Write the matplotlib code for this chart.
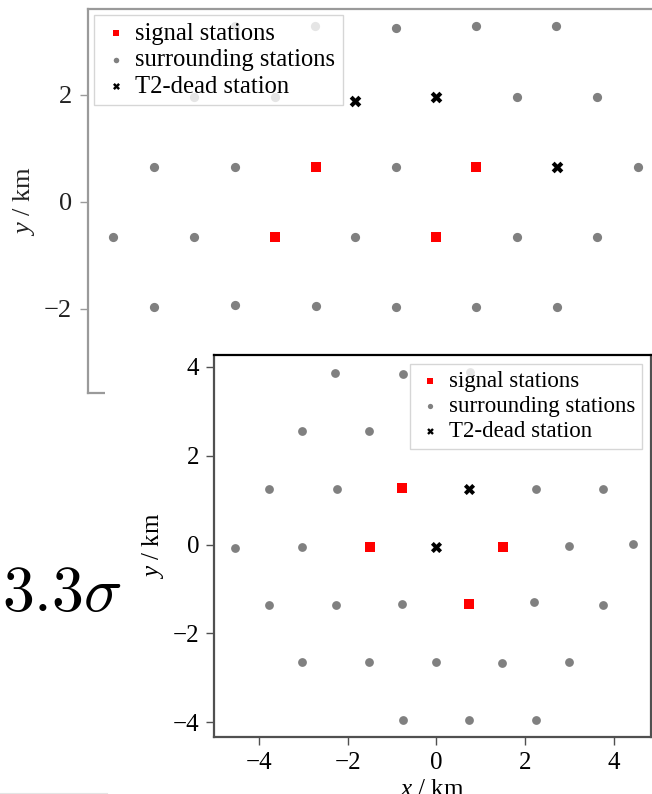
import matplotlib
matplotlib.use("Agg")
import matplotlib.pyplot as plt
from matplotlib.patches import Rectangle
from matplotlib.lines import Line2D

plt.rcParams['font.family'] = ['Liberation Serif', 'DejaVu Serif']
plt.rcParams['mathtext.fontset'] = 'custom'
plt.rcParams['mathtext.rm'] = 'Liberation Serif'
plt.rcParams['mathtext.it'] = 'Liberation Serif:italic'

# --- array layout A (upper panel), km ---
a_signal_x = [-1.10, 1.89, -1.86, 1.14]
a_signal_y = [0.66, 0.65, -0.65, -0.66]
a_dead_x = [-0.36, 1.15, 3.40]
a_dead_y = [1.89, 1.96, 0.65]
a_surr_x = [-2.60, -1.11, 0.40, 1.89, 3.39,
            -3.37, -1.86, 2.65, 4.16,
            -4.11, -2.61, 0.40, 4.91,
            -4.88, -3.37, -0.36, 2.65, 4.16,
            -4.11, -2.61, -1.10, 0.40, 1.89, 3.40]
a_surr_y = [3.28, 3.28, 3.25, 3.28, 3.29,
            1.96, 1.96, 1.96, 1.96,
            0.65, 0.65, 0.65, 0.65,
            -0.65, -0.65, -0.65, -0.65, -0.65,
            -1.96, -1.92, -1.94, -1.96, -1.96, -1.96]

# --- array layout B (lower panel), km ---
b_signal_x = [-0.78, -1.50, 1.49, 0.74]
b_signal_y = [1.27, -0.05, -0.05, -1.33]
b_dead_x = [0.74, 0.0]
b_dead_y = [1.24, -0.05]
b_surr_x = [-2.28, -0.76, 0.76,
            -3.03, -1.52,
            -3.77, -2.24, 2.24, 3.75,
            -4.54, -3.02, 2.99, 4.43,
            -3.77, -2.26, -0.78, 2.20, 3.75,
            -3.02, -1.52, 0.0, 1.48, 2.99,
            -0.76, 0.74, 2.24]
b_surr_y = [3.85, 3.84, 3.88,
            2.55, 2.55,
            1.24, 1.24, 1.24, 1.24,
            -0.075, -0.05, -0.04, 0.015,
            -1.35, -1.35, -1.33, -1.29, -1.35,
            -2.65, -2.65, -2.65, -2.66, -2.65,
            -3.95, -3.95, -3.95]

labels = ['signal stations', 'surrounding stations', 'T2-dead station']
significance = r'$3.3\sigma$'

W, H = 652, 794
fig = plt.figure(figsize=(W / 100, H / 100), dpi=100)


def px_box(left, top, right, bottom):
    return [left / W, 1 - bottom / H, (right - left) / W, (bottom - top) / H]


def draw_layout(ax, sx, sy, ux, uy, dx, dy, fs, ms, spine_col, text_col):
    hs = ax.scatter(sx, sy, marker='s', s=ms * 1.15, color='red', lw=0, zorder=3)
    hu = ax.scatter(ux, uy, marker='o', s=ms, color='grey', lw=0, zorder=3)
    hd = ax.scatter(dx, dy, marker='X', s=ms * 1.6, color='black', lw=0, zorder=3)
    for sp in ax.spines.values():
        sp.set_color(spine_col)
        sp.set_linewidth(1.6)
    ax.tick_params(labelsize=fs, colors=spine_col, labelcolor=text_col,
                   length=6, width=1, pad=5)
    ax.set_ylabel(r'$y$ / km', fontsize=fs, color=text_col)
    return [hs, hu, hd]


# upper panel (partly hidden behind the lower one)
ax1 = fig.add_axes(px_box(87.5, 9, 661.5, 393), zorder=0)
h1 = draw_layout(ax1, a_signal_x, a_signal_y, a_surr_x, a_surr_y,
                 a_dead_x, a_dead_y, 19, 44, '#9a9a9a', '#222222')
ax1.set_xlim(-5.355, 5.355)
ax1.set_ylim(-3.57, 3.607)
ax1.set_yticks([-2, 0, 2])
ax1.yaxis.set_label_coords(-0.088, 0.5)
ax1.legend(h1, labels, loc='upper left', fontsize=17.7, markerscale=0.6,
           labelspacing=0.17, handletextpad=0.2, borderpad=0.3,
           handlelength=1.2, bbox_to_anchor=(0.0, 1.0), borderaxespad=0.25,
           fancybox=False)

# white backdrop of the lower panel
fig.add_artist(Rectangle((105 / W, 0), 1 - 105 / W, 1 - 345 / H,
                         transform=fig.transFigure, facecolor='white',
                         edgecolor='none', zorder=1))
fig.add_artist(Line2D([0, 107 / W], [0.5 / H, 0.5 / H], transform=fig.transFigure,
                      color='#e4e4e4', lw=1.5, zorder=1))

# lower panel
ax2 = fig.add_axes(px_box(214.3, 355, 651, 736.7), zorder=2)
h2 = draw_layout(ax2, b_signal_x, b_signal_y, b_surr_x, b_surr_y,
                 b_dead_x, b_dead_y, 18, 40, '#505050', 'black')
ax2.spines['top'].set_color('black')
ax2.set_xlim(-5.0, 4.83)
ax2.set_ylim(-4.32, 4.26)
ax2.set_xticks([-4, -2, 0, 2, 4])
ax2.set_yticks([-4, -2, 0, 2, 4])
ax2.set_xlabel(r'$x$ / km', fontsize=18)
ax2.xaxis.set_label_coords(0.5, -0.11)
ax2.yaxis.set_label_coords(-0.11, 0.5)
ax2.legend(h2, labels, loc='upper right', fontsize=16.5, markerscale=0.6,
           labelspacing=0.17, handletextpad=0.2, borderpad=0.3,
           handlelength=1.2, borderaxespad=0.4, fancybox=False)

fig.text(61.5 / W, 1 - 596 / H, significance, fontsize=46, math_fontfamily='cm',
         ha='center', va='center', zorder=3)

fig.savefig('out.png', dpi=100, facecolor='white')
